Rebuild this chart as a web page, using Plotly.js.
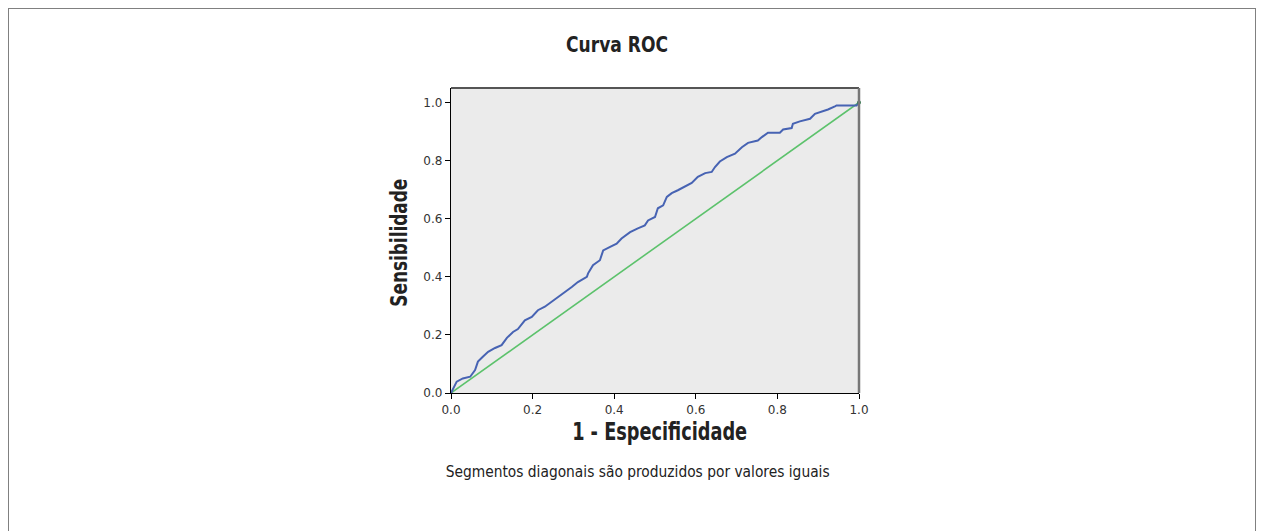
<!DOCTYPE html>
<html>
<head>
<meta charset="utf-8">
<script src="https://cdn.plot.ly/plotly-3.0.1.min.js"></script>
<style>
  html, body { margin: 0; padding: 0; background: #fff; }
  #wrap { position: relative; width: 1264px; height: 531px; overflow: hidden; }
  #chart { position: absolute; left: 0; top: 0; width: 1264px; height: 531px; }
  #frame { position: absolute; left: 8px; top: 8px; width: 1246px; height: 540px;
           border-top: 1.5px solid #808080; border-left: 1px solid #808080; border-right: 1.5px solid #808080;
           pointer-events: none; }
</style>
</head>
<body>
<div id="wrap">
  <div id="chart"></div>
  <div id="frame"></div>
</div>
<script>
// ROC curve
const fpr = [0, 0.014, 0.029, 0.047, 0.059, 0.066, 0.078, 0.091, 0.108, 0.124, 0.137, 0.152, 0.164,
  0.181, 0.198, 0.213, 0.230, 0.247, 0.262, 0.279, 0.296, 0.311, 0.324, 0.333, 0.336, 0.348, 0.365,
  0.373, 0.390, 0.406, 0.418, 0.439, 0.458, 0.475, 0.483, 0.500, 0.507, 0.520, 0.529, 0.541, 0.556,
  0.574, 0.590, 0.605, 0.623, 0.639, 0.647, 0.659, 0.676, 0.696, 0.713, 0.728, 0.752, 0.762, 0.777,
  0.806, 0.814, 0.835, 0.838, 0.855, 0.880, 0.892, 0.909, 0.924, 0.941, 0.945, 0.994, 1.0];
const tpr = [0, 0.039, 0.050, 0.056, 0.079, 0.108, 0.125, 0.142, 0.155, 0.165, 0.190, 0.210, 0.220,
  0.250, 0.262, 0.285, 0.297, 0.314, 0.331, 0.348, 0.365, 0.382, 0.394, 0.400, 0.412, 0.440, 0.457,
  0.491, 0.503, 0.514, 0.532, 0.554, 0.567, 0.577, 0.594, 0.606, 0.636, 0.646, 0.675, 0.688, 0.698,
  0.711, 0.723, 0.744, 0.757, 0.761, 0.778, 0.797, 0.812, 0.824, 0.846, 0.861, 0.869, 0.881, 0.896,
  0.896, 0.907, 0.912, 0.927, 0.935, 0.944, 0.961, 0.969, 0.976, 0.987, 0.990, 0.990, 1.0];
const refX = [0, 1];
const refY = [0, 1];
const tickVals = [0, 0.2, 0.4, 0.6, 0.8, 1.0];
const tickText = ["0.0", "0.2", "0.4", "0.6", "0.8", "1.0"];

const chartTitle = "Curva ROC";
const xTitle = "1 - Especificidade";
const yTitle = "Sensibilidade";
const caption = "Segmentos diagonais são produzidos por valores iguais";

const narrow = "Liberation Sans Narrow, DejaVu Sans Condensed, Roboto Condensed, Arial Narrow, sans-serif";

const traces = [
  { x: refX, y: refY, type: "scatter", mode: "lines",
    line: { color: "#5cc26c", width: 1.6 }, hoverinfo: "skip", showlegend: false },
  { x: fpr, y: tpr, type: "scatter", mode: "lines",
    line: { color: "#4763b3", width: 2 }, hoverinfo: "skip", showlegend: false },
  { x: [1], y: [1], type: "scatter", mode: "markers",
    marker: { color: "#2e7a4a", size: 4 }, hoverinfo: "skip", showlegend: false, cliponaxis: false }
];

const axisCommon = {
  showgrid: false, zeroline: false,
  showline: true, linecolor: "#000", linewidth: 1.2,
  ticks: "outside", ticklen: 5, tickwidth: 1, tickcolor: "#000",
  tickvals: tickVals, ticktext: tickText,
  tickfont: { family: "DejaVu Sans, Verdana, sans-serif", size: 12, color: "#333" },
  fixedrange: true
};

const layout = {
  width: 1264, height: 531,
  margin: { l: 451, r: 405, t: 88, b: 138 },
  paper_bgcolor: "#ffffff",
  plot_bgcolor: "#ebebeb",
  showlegend: false,
  xaxis: Object.assign({}, axisCommon, { range: [0, 1] }),
  yaxis: Object.assign({}, axisCommon, { range: [0, 1.05] }),
  shapes: [
    { type: "line", xref: "paper", yref: "paper", x0: 0, x1: 1, y0: 1, y1: 1,
      line: { color: "#555", width: 2 }, layer: "above" },
    { type: "line", xref: "paper", yref: "paper", x0: 1, x1: 1, y0: 0, y1: 1,
      line: { color: "#777", width: 2.5 }, layer: "above" }
  ],
  annotations: [
    { text: "<b>" + chartTitle + "</b>", xref: "paper", yref: "paper", x: 0.407, y: 1.141,
      xanchor: "center", yanchor: "middle", showarrow: false,
      font: { family: narrow, size: 22, color: "#222" } },
    { text: "<b>" + xTitle + "</b>", xref: "paper", yref: "paper", x: 0.512, y: -0.128,
      xanchor: "center", yanchor: "middle", showarrow: false,
      font: { family: narrow, size: 24, color: "#222" } },
    { text: "<b>" + yTitle + "</b>", xref: "paper", yref: "paper", x: -0.127, y: 0.492,
      xanchor: "center", yanchor: "middle", showarrow: false, textangle: -90,
      font: { family: narrow, size: 23, color: "#222" } },
    { text: caption, xref: "paper", yref: "paper", x: 0.456, y: -0.259,
      xanchor: "center", yanchor: "middle", showarrow: false,
      font: { family: narrow, size: 15, color: "#222" } }
  ]
};

// target rendered widths (px) of the condensed texts, in annotation order
const textWidths = [102, 175, 128, 384];

Plotly.newPlot("chart", traces, layout, { displayModeBar: false, staticPlot: true }).then(function (gd) {
  const texts = gd.querySelectorAll(".annotation-text");
  texts.forEach(function (t, i) {
    if (textWidths[i]) {
      t.setAttribute("textLength", textWidths[i]);
      t.setAttribute("lengthAdjust", "spacingAndGlyphs");
    }
  });
});
</script>
</body>
</html>
